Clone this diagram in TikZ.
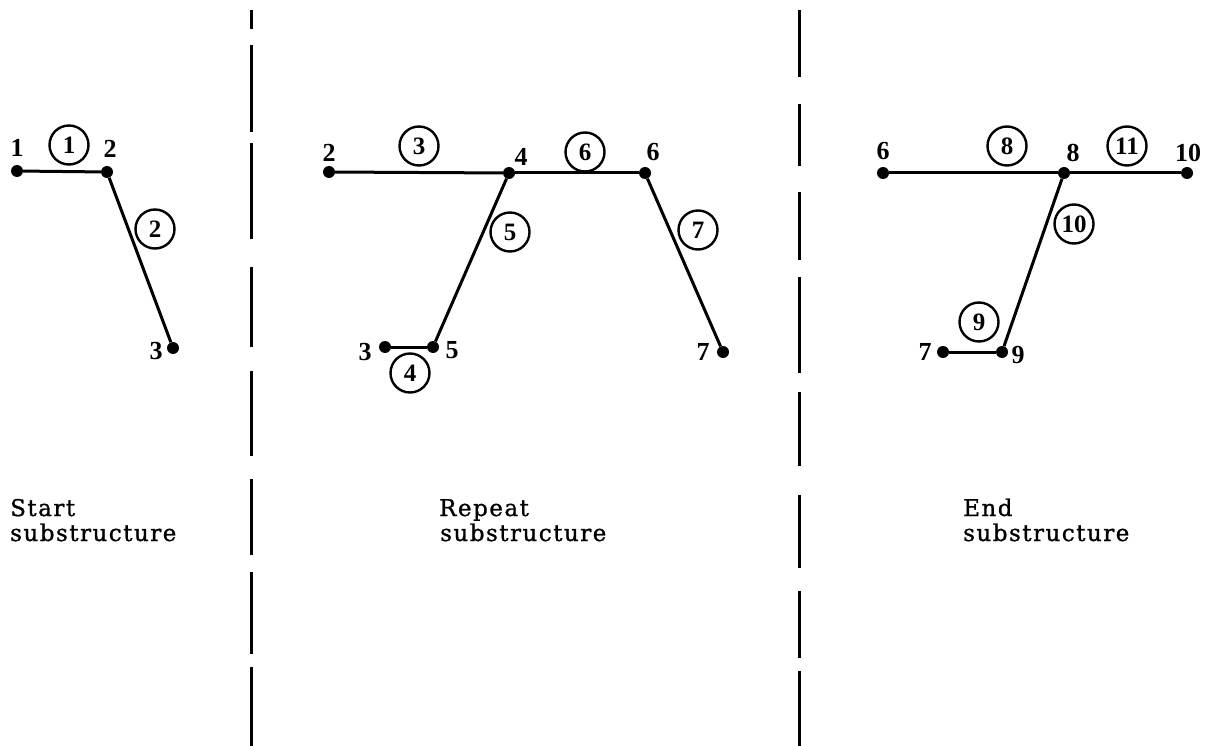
\documentclass[tikz,border=0pt]{standalone}
\usepackage{fontspec}
\setmainfont{Liberation Serif}
\newfontfamily\capfont[LetterSpace=6.5,FakeBold=1]{DejaVu Serif}
\begin{document}
\begin{tikzpicture}[x=1pt,y=-1pt,
  dot/.style={circle,fill=black,inner sep=0pt,minimum size=12pt},
  edge/.style={line width=3pt},
  num/.style={inner sep=0pt,font=\fontsize{26}{26}\selectfont\bfseries},
  elem/.style={circle,draw,line width=2.4pt,minimum size=39pt,inner sep=0pt,font=\fontsize{25}{25}\selectfont\bfseries},
  captext/.style={inner sep=0pt,anchor=base west,font=\fontsize{23}{23}\capfont},
  sepline/.style={line width=3pt}]
\useasboundingbox (0,0) rectangle (1215,746);
% separators
\foreach \a/\b in {10/29,45/132,143/239,267/347,371/456,479/555,572/654,667/746}
  \draw[sepline] (251,\a) -- (251,\b);
\foreach \a/\b in {10/77,104/166,192/260,277/373,392/466,495/568,591/658,671/746}
  \draw[sepline] (799,\a) -- (799,\b);
% start substructure
\node[dot] (a1) at (17,171) {};
\node[dot] (a2) at (107,172) {};
\node[dot] (a3) at (173,348) {};
\draw[edge] (a1) -- (a2);
\draw[edge] (a2) -- (a3);
\node[num] (la1) at (17,148) {1};
\node[num] (la2) at (110,149) {2};
\node[num] (la3) at (156,351) {3};
\node[elem] (ea1) at (69,145) {1};
\node[elem] (ea2) at (155,229) {2};
\node[captext] (ta1) at (10,516) {Start};
\node[captext] (ta2) at (10,541) {substructure};
% repeat substructure
\node[dot] (b2) at (329,172) {};
\node[dot] (b4) at (509,173) {};
\node[dot] (b6) at (645,173) {};
\node[dot] (b7) at (723,352) {};
\node[dot] (b3) at (385,347) {};
\node[dot] (b5) at (433,347) {};
\draw[edge] (b2) -- (b4);
\draw[edge] (b4) -- (b6);
\draw[edge] (b6) -- (b7);
\draw[edge] (b4) -- (b5);
\draw[edge] (b3) -- (b5);
\node[num] (lb2) at (329,153) {2};
\node[num] (lb4) at (521,157) {4};
\node[num] (lb6) at (653,152) {6};
\node[num] (lb7) at (703,352) {7};
\node[num] (lb3) at (365,352) {3};
\node[num] (lb5) at (452,350) {5};
\node[elem] (eb3) at (419,146) {3};
\node[elem] (eb6) at (585,152) {6};
\node[elem] (eb5) at (510,232) {5};
\node[elem] (eb7) at (698,230) {7};
\node[elem] (eb4) at (410,373) {4};
\node[captext] (tb1) at (439,516) {Repeat};
\node[captext] (tb2) at (440,541) {substructure};
% end substructure
\node[dot] (c6) at (883,173) {};
\node[dot] (c8) at (1064,173) {};
\node[dot] (c10) at (1187,173) {};
\node[dot] (c7) at (943,352) {};
\node[dot] (c9) at (1002,352) {};
\draw[edge] (c6) -- (c8);
\draw[edge] (c8) -- (c10);
\draw[edge] (c8) -- (c9);
\draw[edge] (c7) -- (c9);
\node[num] (lc6) at (883,151) {6};
\node[num] (lc8) at (1073,153) {8};
\node[num] (lc10) at (1188,153) {10};
\node[num] (lc7) at (925,352) {7};
\node[num] (lc9) at (1018,355) {9};
\node[elem] (ec8) at (1007,146) {8};
\node[elem] (ec11) at (1127,146) {11};
\node[elem] (ec10) at (1074,224) {10};
\node[elem] (ec9) at (979,322) {9};
\node[captext] (tc1) at (963,516) {End};
\node[captext] (tc2) at (963,541) {substructure};
\end{tikzpicture}
\end{document}
